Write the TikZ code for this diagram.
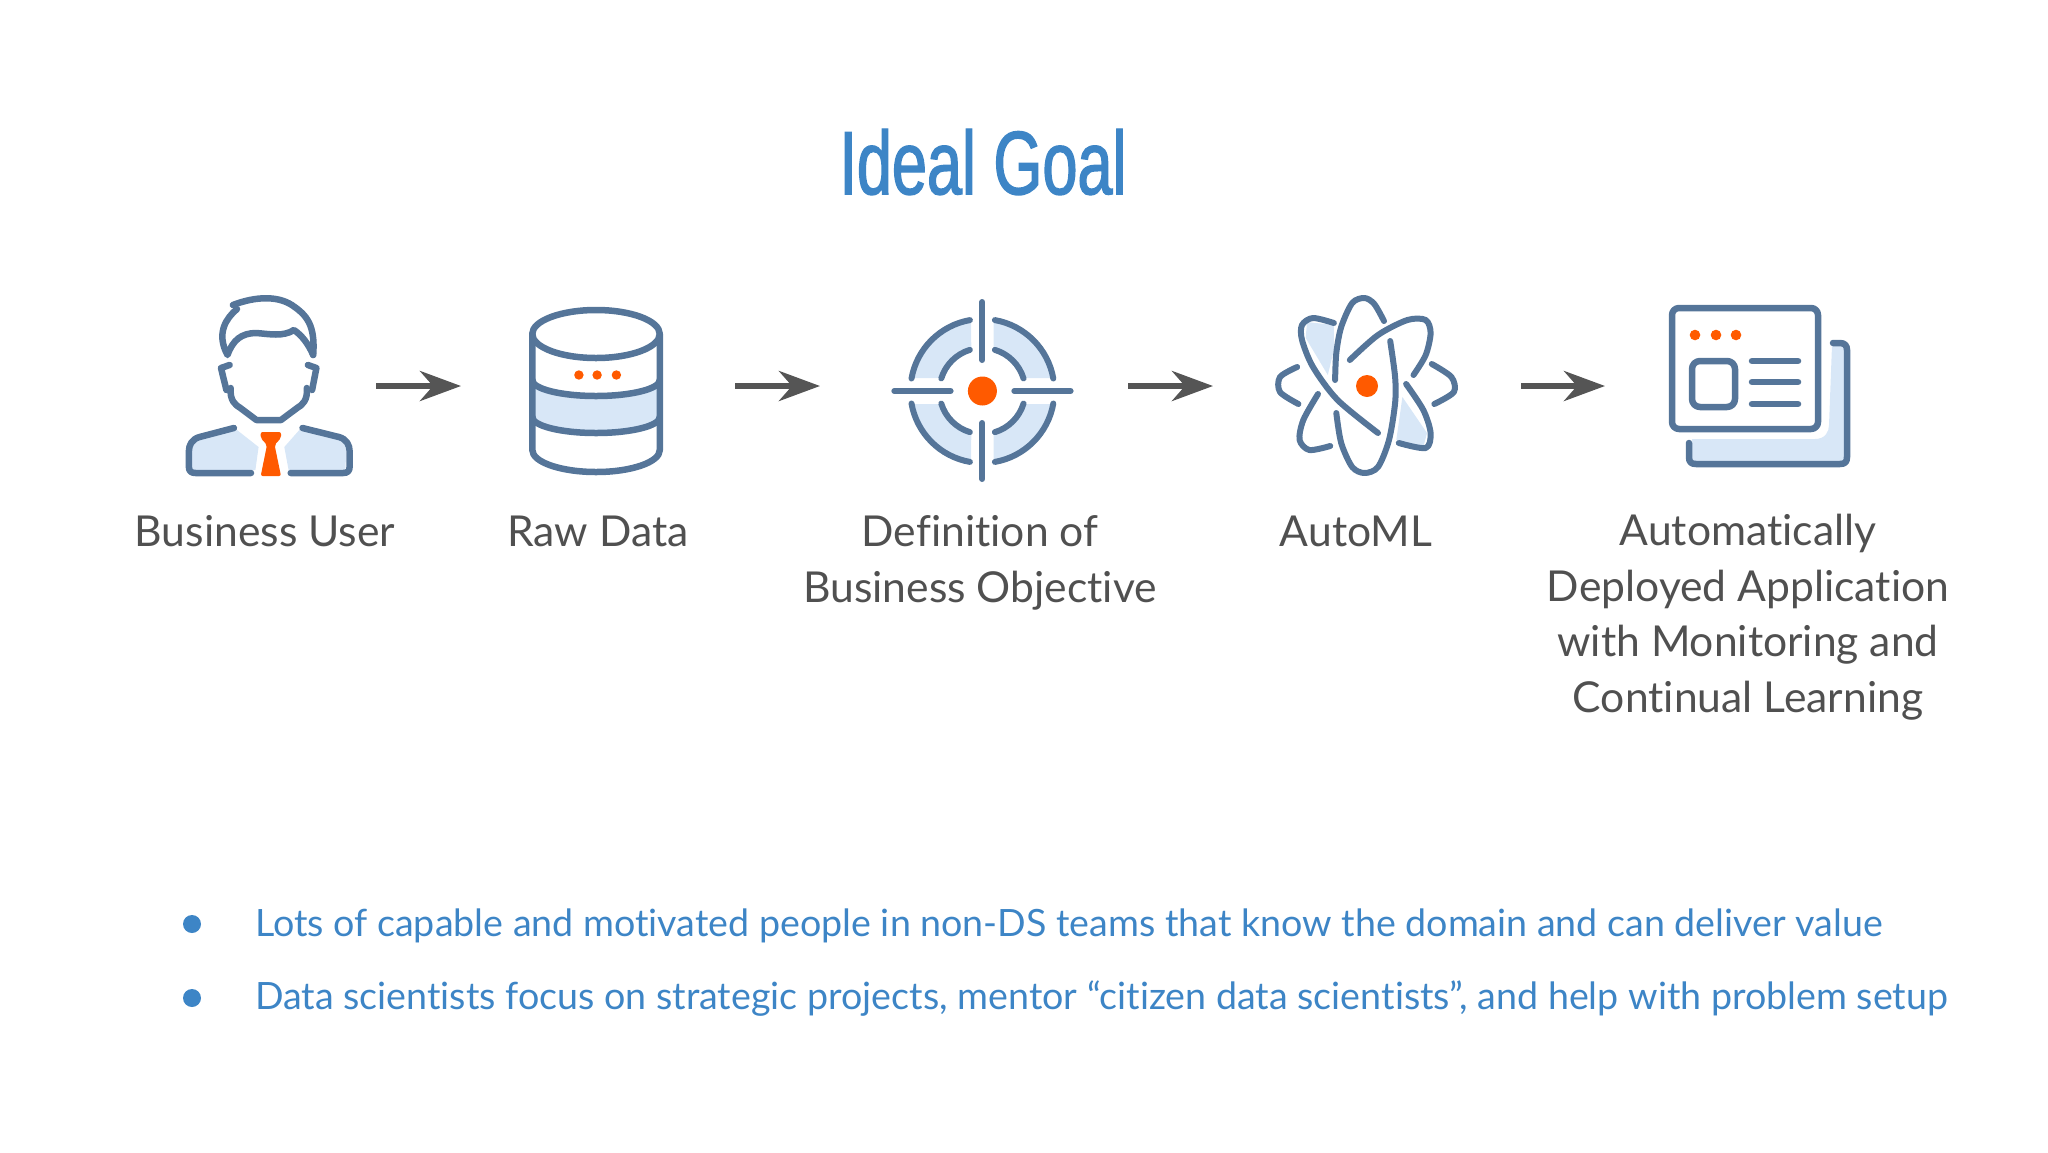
\documentclass[tikz,border=0pt]{standalone}
\usepackage{fontspec}
\setmainfont{Lato}[Ligatures=NoCommon]
\newfontfamily\titlefont[FakeStretch=0.7,FakeBold=1.5]{Liberation Sans}
\usetikzlibrary{arrows.meta,positioning}
\definecolor{iconblue}{HTML}{557599}
\definecolor{iconfill}{HTML}{D8E7F7}
\definecolor{iconorange}{HTML}{FF5A00}
\definecolor{slideblue}{HTML}{3D85C6}
\definecolor{labelgrey}{HTML}{505050}
\definecolor{arrowgrey}{HTML}{555555}
\tikzset{
  iconline/.style={draw=iconblue,line width=6.5pt,line cap=round,line join=round},
  iconthin/.style={draw=iconblue,line width=6pt,line cap=round,line join=round},
  flowarrow/.style={draw=arrowgrey,line width=6pt,-{Stealth[length=41pt,width=30pt,inset=13pt]}},
  steplabel/.style={text=labelgrey,align=center,anchor=north,font=\fontsize{42.6}{55.5}\selectfont},
  bulletline/.style={text=slideblue,anchor=west,inner sep=0pt,font=\fontsize{37.6}{46}\selectfont},
  bulletdot/.style={circle,fill=slideblue,minimum size=18pt,inner sep=0pt}
}
\begin{document}
\begin{tikzpicture}[x=1pt,y=-1pt]
\useasboundingbox (0,0) rectangle (2048,1152);
% title
\node[text=slideblue,font=\titlefont\fontsize{90}{90}\selectfont] (titleGoal) at (983,162) {Ideal Goal};
% business user
\fill[iconfill] (237,430) -- (258.6,447) -- (255.4,470) -- (192,470) -- (192,447) -- (199.6,438) -- cycle;
\fill[iconfill] (299.3,430) -- (284.3,447) -- (288.6,470) -- (345.4,470) -- (346.4,447) -- (338.9,438) -- cycle;
\draw[iconline] (232.9,305) .. controls (256.4,296) and (277.9,296) .. (291.8,305) .. controls (306.8,315) and (315.4,325) .. (313.2,355);
\draw[iconline] (237,309) .. controls (226.4,318) and (215.7,333) .. (227.5,355) .. controls (232.9,340) and (241.4,333) .. (256.4,333) .. controls (269.3,334) and (283.2,337) .. (293.9,330) .. controls (301.4,335) and (307.9,343) .. (313.2,355);
\draw[iconline] (229.6,365) -- (221,368) -- (226.4,390);
\draw[iconline] (307.9,365) -- (316.4,368) -- (312.1,390);
\draw[iconline] (230.7,388) .. controls (229.6,400) and (235,405) .. (240.4,408) -- (256.4,420) -- (281,420) -- (297.1,408) .. controls (302.5,405) and (307.9,400) .. (306.8,388);
\draw[iconline] (233.9,428) -- (199.6,437) .. controls (192,439) and (188.9,445) .. (188.9,451) -- (188.9,467) .. controls (188.9,471) and (191,473) .. (195.4,473) -- (251,473);
\draw[iconline] (302.5,428) -- (338.9,437) .. controls (346.4,439) and (349.6,445) .. (349.6,451) -- (349.6,467) .. controls (349.6,471) and (347.5,473) .. (343.2,473) -- (290.7,473);
\fill[iconorange,rounded corners=2pt] (260.7,432) -- (281,432) -- (281,438) -- (274.6,445) -- (281,476) -- (260.7,476) -- (267,445) -- (260.7,438) -- cycle;
% raw data
\fill[iconfill] (532.3,380) arc[start angle=180,end angle=0,x radius=63.75,y radius=16] -- (659.8,417) arc[start angle=0,end angle=180,x radius=63.75,y radius=16] -- cycle;
\draw[iconline] (596,334) ellipse[x radius=63.75,y radius=24];
\draw[iconline] (532.3,334) -- (532.3,450) arc[start angle=180,end angle=0,x radius=63.75,y radius=22] -- (659.8,334);
\draw[iconline] (532.3,380) arc[start angle=180,end angle=0,x radius=63.75,y radius=16];
\draw[iconline] (532.3,417) arc[start angle=180,end angle=0,x radius=63.75,y radius=16];
\foreach \x in {578.9,597.1,616.4}
\fill[iconorange] (\x,375) circle (4.7);
% business objective
\foreach \sx/\sy in {1/1,-1/1,1/-1,-1/-1}{
\begin{scope}[shift={(982.4,391)},xscale=\sx,yscale=\sy]
\fill[iconfill] (10.4:72) arc[start angle=10.4,end angle=81,radius=72] -- (75:43) arc[start angle=75,end angle=17.6,radius=43] -- cycle;
\draw[iconthin] (10:72) arc[start angle=10,end angle=80,radius=72];
\draw[iconthin] (17:43) arc[start angle=17,end angle=73,radius=43];
\end{scope}}
\draw[iconthin] (982.4,302) -- (982.4,360);
\draw[iconthin] (982.4,423) -- (982.4,479);
\draw[iconthin] (894.3,391) -- (950.6,391);
\draw[iconthin] (1014.3,391) -- (1070.6,391);
\fill[iconorange] (982.4,391) circle (14.5);
% automl
\fill[iconfill] (1333.9,325) -- (1307,322) -- (1305.7,338) -- (1327.8,375) -- (1333.9,350) -- cycle;
\fill[iconfill] (1402.4,397) -- (1427,433) -- (1423.3,447) -- (1396.3,440) -- cycle;
\draw[iconthin] plot[smooth] coordinates {(1384,321) (1374.3,304) (1364.5,298) (1352.2,303) (1341.2,327) (1336.3,353) (1335.1,380)};
\draw[iconthin] plot[smooth] coordinates {(1336.3,413) (1341.2,443) (1352.2,467) (1364.5,473) (1378,467) (1389,440) (1395.1,403) (1395.1,377) (1390.2,341)};
\draw[iconthin] plot[smooth] coordinates {(1333.9,323) (1313,318) (1302,325) (1302,340) (1313,367) (1337.6,400) (1378,433)};
\draw[iconthin] plot[smooth] coordinates {(1349.8,360) (1378,335) (1407.4,320) (1425.7,320) (1430.6,333) (1425.7,355) (1413.5,375)};
\draw[iconthin] plot[smooth] coordinates {(1297.1,367) (1280,377) (1280,392) (1298.4,404)};
\draw[iconthin] plot[smooth] coordinates {(1431.8,364) (1451.4,377) (1453.9,392) (1434.3,404)};
\draw[iconthin] plot[smooth] coordinates {(1318,394) (1303.3,420) (1299.6,440) (1309.4,450) (1330.2,446)};
\draw[iconthin] plot[smooth] coordinates {(1406.1,384) (1423.3,410) (1430.6,433) (1425.7,448) (1398.8,443)};
\fill[iconorange] (1367,386) circle (11);
% deployed application
\fill[iconfill] (1832,345) -- (1845,345) -- (1845,462) -- (1692,462) -- (1692,439) -- (1815,439) .. controls (1825,439) and (1829,432) .. (1829,425) -- cycle;
\draw[iconline] (1833,343) -- (1840,343) .. controls (1845,343) and (1847,346) .. (1847,350) -- (1847,457) .. controls (1847,462) and (1845,464) .. (1840,464) -- (1696,464) .. controls (1691,464) and (1689,462) .. (1689,457) -- (1689,443);
\draw[iconline,rounded corners=7pt] (1672,308) rectangle (1818,429);
\draw[iconline,rounded corners=8pt] (1692,361) rectangle (1735,407);
\foreach \y in {361,382,404}
\draw[iconline] (1752,\y) -- (1798,\y);
\foreach \x in {1695,1716,1736}
\fill[iconorange] (\x,335) circle (5.3);
% draw arrows
\foreach \n/\xa/\xb in {a/376/461,b/735/820,c/1128/1213,d/1521/1605}{
\coordinate (\n from) at (\xa,386);
\coordinate (\n to) at (\xb,386);
\draw[flowarrow] (\n from) -- (\n to);}
% draw labels
\node[steplabel] (lblUser) at (265,512) {Business User};
\node[steplabel] (lblData) at (598,512) {Raw Data};
\node[steplabel] (lblObjective) at (980,512) {Definition of\\Business Objective};
\node[steplabel] (lblAutoml) at (1356,512) {AutoML};
\node[steplabel] (lblApp) at (1748,511) {Automatically\\Deployed Application\\with Monitoring and\\Continual Learning};
% draw bullets
\node[bulletdot] (dotOne) at (192,924) {};
\node[bulletdot] (dotTwo) at (192,998) {};
\node[bulletline] (lineOne) at (255,926) {Lots of capable and motivated people in non-DS teams that know the domain and can deliver value};
\node[bulletline] (lineTwo) at (255,999) {Data scientists focus on strategic projects, mentor “citizen data scientists”, and help with problem setup};
\end{tikzpicture}
\end{document}
